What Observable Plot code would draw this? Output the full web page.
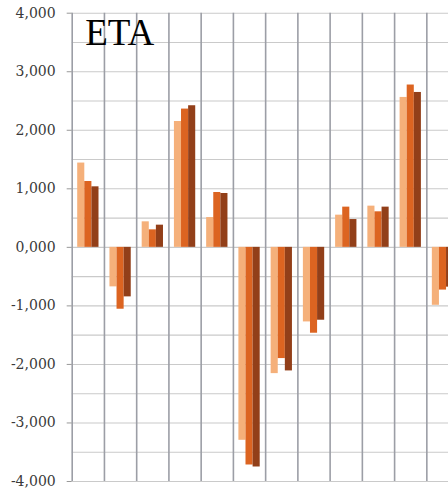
<!DOCTYPE html>
<html>
<head>
<meta charset="utf-8">
<script src="https://cdn.jsdelivr.net/npm/d3@7"></script>
<script src="https://cdn.jsdelivr.net/npm/@observablehq/plot@0.6"></script>
<style>
  html, body { margin: 0; padding: 0; background: #fff; overflow: hidden; }
  #chart svg { display: block; }
</style>
</head>
<body>
<div id="chart"></div>
<script>
// ---- data ----
const title = "ETA";
const groups = ["1", "2", "3", "4", "5", "6", "7", "8", "9", "10", "11", "12"];
const seriesNames = ["A", "B", "C"];
const seriesA = [1440, -675, 436, 2150, 509, -3296, -2157, -1274, 550, 704, 2561, -990];
const seriesB = [1125, -1057, 299, 2362, 937, -3718, -1900, -1467, 687, 607, 2773, -730];
const seriesC = [1034, -846, 379, 2419, 920, -3752, -2111, -1245, 475, 687, 2646, -680];
const yTicks = [-4000, -3000, -2000, -1000, 0, 1000, 2000, 3000, 4000];
const yTickLabels = ["-4,000", "-3,000", "-2,000", "-1,000", "0,000", "1,000", "2,000", "3,000", "4,000"];
const yGrid = d3.range(-4000, 4001, 500);

// ---- layout / style ----
const W = 448, H = 489;
const mL = 71.7, mR = 0, mT = 12.7, mB = 8;
const bandPx = 32.24;
const xMax = (W - mL - mR) / bandPx;
const colors = ["#f5b07a", "#dc6421", "#923f19"];
const barW = 7.1, lead = 5.5;
const tickFont = "'DejaVu Serif', 'Liberation Serif', serif";

const seriesValues = [seriesA, seriesB, seriesC];
const rows = seriesValues.map((vals, k) =>
  vals.map((v, i) => ({g: i, group: groups[i], series: seriesNames[k], v}))
);

const barMarks = rows.map((data, k) => Plot.rectY(data, {
  x1: d => d.g,
  x2: d => d.g + 1,
  y1: 0,
  y2: "v",
  fill: colors[k],
  insetLeft: lead + k * barW,
  insetRight: bandPx - (lead + (k + 1) * barW),
  clip: true
}));

const chart = Plot.plot({
  width: W,
  height: H,
  marginLeft: mL,
  marginRight: mR,
  marginTop: mT,
  marginBottom: mB,
  style: {background: "#fff", color: "#3a3a3a"},
  x: {domain: [0, xMax], axis: null},
  y: {domain: [-4000, 4000], label: null},
  marks: [
    Plot.gridY({ticks: yGrid, stroke: "#cacaca", strokeOpacity: 1, strokeWidth: 1.1}),
    Plot.gridX({ticks: d3.range(0, groups.length), stroke: "#9c9ea6", strokeOpacity: 1, strokeWidth: 1.6}),
    ...barMarks,
    Plot.axisY({
      ticks: yTicks,
      tickFormat: d => yTickLabels[yTicks.indexOf(d)],
      label: null,
      tickSize: 5,
      tickPadding: 11.5,
      fontSize: 14,
      fontFamily: tickFont,
      stroke: "#999",
      fill: "#3a3a3a"
    }),
    Plot.text([title], {
      frameAnchor: "top-left",
      textAnchor: "start",
      lineAnchor: "top",
      dx: 13,
      dy: 6,
      fontSize: 37,
      fontFamily: "Liberation Serif",
      fill: "#000"
    })
  ]
});
chart.querySelectorAll("text").forEach(t => {
  if (yTickLabels.includes(t.textContent)) t.style.fontFamily = tickFont;
});
document.getElementById("chart").appendChild(chart);
</script>
</body>
</html>
